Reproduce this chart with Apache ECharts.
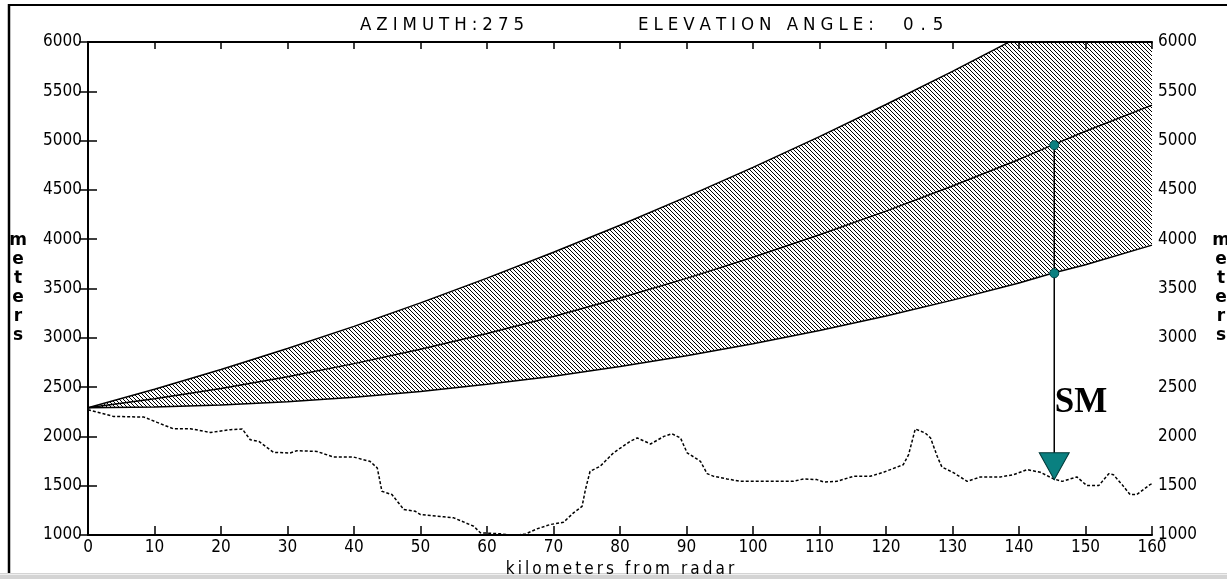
<!DOCTYPE html>
<html>
<head>
<meta charset="utf-8">
<script src="https://cdn.jsdelivr.net/npm/echarts@6/dist/echarts.min.js"></script>
<style>
html,body{margin:0;padding:0;background:#fff;overflow:hidden;}
#chart{width:1227px;height:579px;}
</style>
</head>
<body>
<div id="chart"></div>
<script>
// ---- data ----
const titleAzimuth = 'AZIMUTH:275';
const titleElevation = 'ELEVATION ANGLE:';
const titleAngle = '0.5';
const xAxisName = 'kilometers from radar';
const yAxisName = 'meters';
const markerLabel = 'SM';

const beamKm     = [0, 10, 20, 30, 40, 50, 60, 70, 80, 90, 100, 110, 120, 130, 140, 145, 150, 160];
const beamTop    = [2290, 2478, 2679, 2891, 3116, 3354, 3605, 3867, 4141, 4429, 4729, 5041, 5366, 5702, 6052, 6232, 6414, 6789];
const beamCenter = [2290, 2382, 2486, 2605, 2738, 2884, 3043, 3216, 3403, 3603, 3817, 4045, 4285, 4540, 4809, 4954, 5095, 5360];
const beamBottom = [2290, 2298, 2318, 2351, 2398, 2456, 2528, 2611, 2708, 2817, 2940, 3074, 3221, 3382, 3555, 3654, 3741, 3940];

const terrainKm = [0, 3.8, 8.4, 10.4, 12.8, 15.4, 18.4, 21.4, 23.2, 24.4, 25.7, 27.9, 30.4, 31.4, 34.4, 36.9, 39.9, 42.4, 43.5, 44.2, 45.7, 47.5, 49.2, 50.0, 53.5, 55.0, 58.0, 59.0, 62.0, 64.0, 65.8, 67.5, 69.5, 71.5, 73.0, 74.3, 74.8, 75.5, 77.0, 79.0, 81.5, 82.6, 84.6, 86.6, 87.8, 89.1, 90.1, 91.1, 92.1, 93.1, 94.1, 96.1, 98.1, 106.1, 107.6, 109.6, 110.6, 112.6, 115.1, 117.6, 119.6, 121.7, 122.6, 123.4, 124.4, 125.9, 126.7, 127.7, 128.4, 130.2, 132.2, 134.2, 137.2, 139.2, 141.2, 143.2, 145.2, 146.5, 148.7, 150.2, 152.0, 153.5, 154.2, 155.5, 156.7, 157.7, 159.7, 160];
const terrainM  = [2270, 2203, 2196, 2142, 2078, 2078, 2040, 2068, 2075, 1966, 1949, 1838, 1832, 1855, 1848, 1791, 1791, 1747, 1680, 1443, 1410, 1258, 1241, 1207, 1184, 1174, 1089, 1022, 1012, 995, 1010, 1062, 1106, 1129, 1224, 1291, 1460, 1646, 1696, 1832, 1949, 1984, 1923, 2000, 2027, 1984, 1832, 1791, 1747, 1622, 1595, 1569, 1544, 1544, 1569, 1562, 1538, 1544, 1595, 1595, 1636, 1690, 1713, 1815, 2075, 2034, 1984, 1798, 1690, 1630, 1544, 1589, 1589, 1612, 1663, 1636, 1569, 1544, 1589, 1501, 1501, 1622, 1612, 1511, 1410, 1410, 1511, 1520];

const smKm = 145.3;
const smBeamTop = 4954;
const smBeamBottom = 3654;
const smGround = 1560;
const smLabelM = 2330;

const xMin = 0, xMax = 160, xStep = 10;
const yMin = 1000, yMax = 6000, yStep = 500;

// ---- styling ----
const measureCtx = document.createElement('canvas').getContext('2d');
function fontAvailable(name) {
  const s = 'mmmmmmmmmmlli0123456789WWWabcxyz';
  for (const base of ['monospace', 'serif']) {
    measureCtx.font = '48px ' + base;
    const w0 = measureCtx.measureText(s).width;
    measureCtx.font = "48px '" + name + "', " + base;
    if (Math.abs(measureCtx.measureText(s).width - w0) > 0.5) return true;
  }
  return false;
}
const HAS_COND = fontAvailable('DejaVu Sans Condensed');
const FONT = HAS_COND ? "'DejaVu Sans Condensed', 'DejaVu Sans', sans-serif" : "'DejaVu Sans', sans-serif";
const TICK_SIZE = HAS_COND ? 17 : 16;
const TEAL = '#0a8080';

// letter-spaced text: pick the joiner whose width best fills the target width
function spacedToWidth(text, font, target) {
  measureCtx.font = font;
  const chars = text.split('');
  const gaps = chars.length - 1;
  if (gaps <= 0) return text;
  const w0 = measureCtx.measureText(text).width;
  const need = (target - w0) / gaps;
  const base = measureCtx.measureText('aa').width;
  const cands = ['', '\u200A', '\u2009', '\u200A\u200A', '\u2009\u200A', ' ', '\u2009\u2009', ' \u200A', ' \u2009', '  ', '\u2009\u2009\u2009'];
  let best = '', bestErr = Infinity;
  for (const j of cands) {
    const w = measureCtx.measureText('a' + j + 'a').width - base;
    const err = Math.abs(w - need);
    if (err < bestErr) { bestErr = err; best = j; }
  }
  return chars.join(best);
}

function hatchCanvas() {
  const c = document.createElement('canvas');
  c.width = 4; c.height = 4;
  const g = c.getContext('2d');
  g.fillStyle = '#ffffff'; g.fillRect(0, 0, 4, 4);
  g.fillStyle = '#000000';
  for (let i = 0; i < 4; i++) g.fillRect(i, i, 1, 1);
  return c;
}

const pairs = (xs, ys) => xs.map((x, i) => [x, ys[i]]);

const TITLE_FONT = '18.5px ' + FONT;
const NAME_FONT = '17px ' + FONT;

const chart = echarts.init(document.getElementById('chart'), null, {renderer: 'canvas'});

const axisLineStyle = {color: '#000', width: 2};
const tickStyle = {color: '#000', width: 1.5};
const labelStyle = {color: '#000', fontFamily: FONT, fontSize: TICK_SIZE, formatter: v => String(v)};
const vName = yAxisName.split('').join('\n');
const vNameStyle = {color: '#000', fontFamily: "'DejaVu Sans', sans-serif", fontSize: 17, fontWeight: 'bold', lineHeight: 19, align: 'center'};

chart.setOption({
  animation: false,
  backgroundColor: '#fff',
  grid: {left: 88, right: 75, top: 42, bottom: 44, containLabel: false, outerBoundsMode: 'none'},
  xAxis: [
    {
      type: 'value', position: 'bottom', min: xMin, max: xMax, interval: xStep, z: 6,
      axisLine: {show: true, lineStyle: axisLineStyle},
      axisTick: {show: true, inside: true, length: 9, lineStyle: tickStyle},
      axisLabel: Object.assign({margin: 4}, labelStyle),
      splitLine: {show: false},
      name: spacedToWidth(xAxisName, NAME_FONT, 235), nameLocation: 'middle', nameGap: 21,
      nameTextStyle: {color: '#000', fontFamily: FONT, fontSize: 17}
    },
    {
      type: 'value', position: 'top', min: xMin, max: xMax, interval: xStep, z: 6,
      axisLine: {show: true, lineStyle: axisLineStyle},
      axisTick: {show: true, inside: true, length: 7, lineStyle: tickStyle},
      axisLabel: {show: false},
      splitLine: {show: false}
    }
  ],
  yAxis: [
    {
      type: 'value', position: 'left', min: yMin, max: yMax, interval: yStep, z: 6,
      axisLine: {show: true, lineStyle: axisLineStyle},
      axisTick: {show: true, inside: true, length: 9, lineStyle: tickStyle},
      axisLabel: Object.assign({margin: 6}, labelStyle),
      splitLine: {show: false},
      name: vName, nameLocation: 'middle', nameRotate: 0, nameGap: 70, nameTextStyle: vNameStyle
    },
    {
      type: 'value', position: 'right', min: yMin, max: yMax, interval: yStep, z: 6,
      axisLine: {show: true, lineStyle: axisLineStyle},
      axisTick: {show: true, inside: true, length: 9, lineStyle: tickStyle},
      axisLabel: Object.assign({margin: 6}, labelStyle),
      splitLine: {show: false},
      name: vName, nameLocation: 'middle', nameRotate: 0, nameGap: 69, nameTextStyle: vNameStyle
    }
  ],
  graphic: [
    {type: 'line', shape: {x1: 9, y1: 4, x2: 9, y2: 573}, style: {stroke: '#000', lineWidth: 2.5}},
    {type: 'line', shape: {x1: 8, y1: 5, x2: 1227, y2: 5}, style: {stroke: '#000', lineWidth: 2}},
    {type: 'rect', shape: {x: 0, y: 573, width: 1227, height: 6}, style: {fill: '#d4d4d4'}},
    {type: 'rect', shape: {x: 0, y: 574, width: 1227, height: 1}, style: {fill: '#efefef'}},
    {type: 'text', x: 360, y: 25, style: {text: spacedToWidth(titleAzimuth, TITLE_FONT, 162), font: TITLE_FONT, fill: '#000', verticalAlign: 'middle', align: 'left'}},
    {type: 'text', x: 638, y: 25, style: {text: spacedToWidth(titleElevation, TITLE_FONT, 235), font: TITLE_FONT, fill: '#000', verticalAlign: 'middle', align: 'left'}},
    {type: 'text', x: 903, y: 25, style: {text: spacedToWidth(titleAngle, TITLE_FONT, 42), font: TITLE_FONT, fill: '#000', verticalAlign: 'middle', align: 'left'}}
  ],
  series: [
    {
      name: 'beamTop', type: 'line', clip: true,
      data: pairs(beamKm, beamTop), symbol: 'none',
      lineStyle: {color: '#000', width: 1.5},
      areaStyle: {color: {image: hatchCanvas(), repeat: 'repeat'}, opacity: 1, origin: 'start'}, z: 2
    },
    {
      name: 'beamBottom', type: 'line', clip: true,
      data: pairs(beamKm, beamBottom), symbol: 'none',
      lineStyle: {color: '#000', width: 1.5},
      areaStyle: {color: '#ffffff', opacity: 1, origin: 'start'}, z: 2
    },
    {
      name: 'beamCenter', type: 'line', clip: true,
      data: pairs(beamKm, beamCenter), symbol: 'none',
      lineStyle: {color: '#000', width: 1.5}, z: 3
    },
    {
      name: 'terrain', type: 'line', clip: true,
      data: pairs(terrainKm, terrainM), symbol: 'none',
      lineStyle: {color: '#000', width: 1.5, type: [3, 2]}, z: 3
    },
    {
      name: 'smDrop', type: 'line', clip: true,
      data: [[smKm, smBeamTop], [smKm, smGround]], symbol: 'none',
      lineStyle: {color: '#000', width: 1.5}, z: 4
    },
    {
      name: 'smBeamPoints', type: 'scatter',
      data: [[smKm, smBeamTop], [smKm, smBeamBottom]],
      symbol: 'circle', symbolSize: 9,
      itemStyle: {color: TEAL, borderColor: '#004848', borderWidth: 1, opacity: 1}, z: 5
    },
    {
      name: 'smMarker', type: 'scatter',
      data: [[smKm, smGround]],
      symbol: 'path://M0,0 L30,0 L15,27 Z', symbolSize: [30, 27], symbolOffset: [0, -13.5],
      itemStyle: {color: TEAL, borderColor: '#003838', borderWidth: 1, opacity: 1}, z: 5
    },
    {
      name: 'smLabel', type: 'scatter',
      data: [[smKm, smLabelM]], symbolSize: 1,
      itemStyle: {color: 'rgba(0,0,0,0)', opacity: 1},
      label: {show: true, formatter: markerLabel, position: [0, 0], offset: [1, 0], align: 'left', verticalAlign: 'middle',
        color: '#000000', opacity: 1, fontFamily: "'Liberation Serif','DejaVu Serif',serif", fontWeight: 'bold', fontSize: 35},
      z: 6
    }
  ]
});
</script>
</body>
</html>
